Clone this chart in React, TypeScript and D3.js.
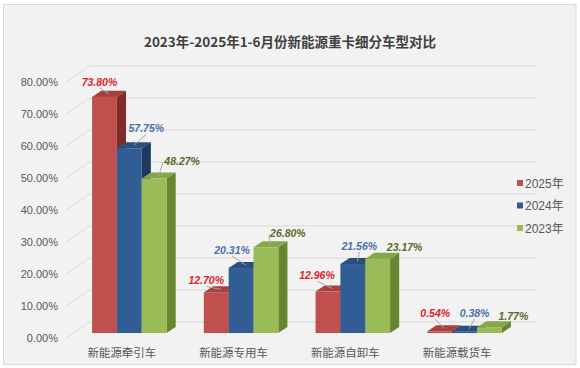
import React, { useEffect, useRef } from "react";
import * as d3 from "d3";

// 数据
const categories = ["新能源牵引车", "新能源专用车", "新能源自卸车", "新能源载货车"];
const seriesNames = ["2025年", "2024年", "2023年"];
const values2025 = [73.8, 12.7, 12.96, 0.54];
const values2024 = [57.75, 20.31, 21.56, 0.38];
const values2023 = [48.27, 26.8, 23.17, 1.77];
const yTicks = [0, 10, 20, 30, 40, 50, 60, 70, 80];
const title = "2023年-2025年1-6月份新能源重卡细分车型对比";

const W = 580;
const H = 368;

// 颜色: 正面 / 顶面 / 侧面 / 标签
const palette = [
  { front: "#c0504d", top: "#a8403d", side: "#7f2c2a", label: "#e3202b" },
  { front: "#2f5d94", top: "#27507f", side: "#1d3a5e", label: "#4a72a8" },
  { front: "#9bbb59", top: "#87a64a", side: "#68862f", label: "#5b6a2e" },
];

// 标签相对柱顶中心的偏移 (按 series, category)
const labelOffsets = [
  [[-5, -15], [-10, -12], [-11, -16.5], [-4.5, -18]],
  [[17, -20], [-9, -18], [6.5, -18], [10, -19]],
  [[28, -17.5], [22, -14], [27, -12], [24, -11]],
];

const App = () => {
  const svgRef = useRef<SVGSVGElement>(null);

  useEffect(() => {
    const svg = d3.select(svgRef.current);
    svg.selectAll("*").remove();

    const seriesValues = [values2025, values2024, values2023];

    // 3D 深度向量
    const depth = { x: 24, y: -16 };
    const t0 = 0.31;
    const t1 = 0.69;

    const x0 = d3.scaleBand().domain(categories).range([66, 513]).padding(0);
    const x1 = d3
      .scaleBand()
      .domain(seriesNames)
      .range([0, x0.bandwidth()])
      .paddingInner(0)
      .paddingOuter(0.75);
    const y = d3.scaleLinear().domain([0, 80]).range([338, 82]);

    // 背景
    svg.append("rect").attr("width", W).attr("height", H).attr("fill", "#ffffff");
    svg.append("rect")
      .attr("x", 3.5)
      .attr("y", 4.5)
      .attr("width", 572.5)
      .attr("height", 360)
      .attr("fill", "#f2f2f2")
      .attr("stroke", "#d9d9d9");

    // 标题
    svg.append("text")
      .attr("x", 290)
      .attr("y", 47)
      .attr("text-anchor", "middle")
      .attr("font-family", "'Noto Sans CJK SC', sans-serif")
      .attr("font-weight", "bold")
      .attr("font-size", "13.5px")
      .attr("fill", "#404040")
      .text(title);

    // 背墙网格线 + 左墙斜线
    const xl = x0.range()[0];
    const xr = x0.range()[1];
    yTicks.forEach((t) => {
      svg.append("line")
        .attr("x1", xl + depth.x)
        .attr("x2", xr + depth.x)
        .attr("y1", y(t) + depth.y)
        .attr("y2", y(t) + depth.y)
        .attr("stroke", "#d9d9d9")
        .attr("stroke-width", 1);
      svg.append("line")
        .attr("x1", xl)
        .attr("y1", y(t))
        .attr("x2", xl + depth.x)
        .attr("y2", y(t) + depth.y)
        .attr("stroke", "#d9d9d9")
        .attr("stroke-width", 1);
      svg.append("text")
        .attr("x", 58)
        .attr("y", y(t) + 4)
        .attr("text-anchor", "end")
        .attr("font-family", "'Liberation Sans', sans-serif")
        .attr("font-size", "11px")
        .attr("fill", "#595959")
        .text(`${t.toFixed(2)}%`);
    });

    // 柱子 (从左往右画, 后画的盖住前面的侧面)
    const fx = depth.x * t0;
    const fy = depth.y * t0;
    const bdx = depth.x * (t1 - t0);
    const bdy = depth.y * (t1 - t0);
    const bars: { cx: number; ty: number; s: number; c: number; v: number }[] = [];

    categories.forEach((cat, c) => {
      seriesNames.forEach((s, si) => {
        const v = seriesValues[si][c];
        const xL = (x0(cat) as number) + (x1(s) as number) + fx;
        const w = x1.bandwidth();
        const yb = y(0) + fy;
        const yt = y(v) + fy;
        const col = palette[si];
        const g = svg.append("g");
        g.append("path")
          .attr("d", `M${xL},${yt}L${xL + w},${yt}L${xL + w + bdx},${yt + bdy}L${xL + bdx},${yt + bdy}Z`)
          .attr("fill", col.top);
        g.append("path")
          .attr("d", `M${xL + w},${yt}L${xL + w + bdx},${yt + bdy}L${xL + w + bdx},${yb + bdy}L${xL + w},${yb}Z`)
          .attr("fill", col.side);
        g.append("rect")
          .attr("x", xL)
          .attr("y", yt)
          .attr("width", w)
          .attr("height", yb - yt)
          .attr("fill", col.front);
        bars.push({ cx: xL + w / 2, ty: yt, s: si, c, v });
      });
    });

    // 数据标签 + 引导线
    bars.forEach((b) => {
      const [ox, oy] = labelOffsets[b.s][b.c];
      const lx = b.cx + ox;
      const ly = b.ty + oy;
      const ex = b.cx + bdx / 2;
      const ey = b.ty + bdy / 2;
      let sx = lx;
      let sy = ly + 6;
      if (ox > 20) {
        sx = lx - 19;
        sy = ly + 1;
      }
      const dist = Math.hypot(ex - sx, ey - sy);
      if (dist > 9) {
        svg.append("line")
          .attr("x1", sx)
          .attr("y1", sy)
          .attr("x2", ex)
          .attr("y2", ey)
          .attr("stroke", "#a6a6a6")
          .attr("stroke-width", 1);
      }
      svg.append("text")
        .attr("x", lx)
        .attr("y", ly + 4)
        .attr("text-anchor", "middle")
        .attr("font-family", "'Liberation Sans', sans-serif")
        .attr("font-weight", "bold")
        .attr("font-style", "italic")
        .attr("font-size", "10.5px")
        .attr("fill", palette[b.s].label)
        .text(`${b.v.toFixed(2)}%`);
    });

    // 分类标签
    categories.forEach((cat) => {
      svg.append("text")
        .attr("x", (x0(cat) as number) + x0.bandwidth() / 2)
        .attr("y", 357)
        .attr("text-anchor", "middle")
        .attr("font-family", "'Noto Sans CJK SC', sans-serif")
        .attr("font-size", "11.5px")
        .attr("fill", "#595959")
        .text(cat);
    });

    // 图例
    const legend = d3.scalePoint().domain(seriesNames).range([183, 228]);
    seriesNames.forEach((s, si) => {
      svg.append("rect")
        .attr("x", 517)
        .attr("y", (legend(s) as number) - 3)
        .attr("width", 6)
        .attr("height", 6)
        .attr("fill", palette[si].front);
      svg.append("text")
        .attr("x", 525)
        .attr("y", (legend(s) as number) + 4.5)
        .attr("font-family", "'Liberation Sans', 'Noto Sans CJK SC', sans-serif")
        .attr("font-size", "12px")
        .attr("fill", "#595959")
        .text(s);
    });
  }, []);

  return (
    <svg
      ref={svgRef}
      width={W}
      height={H}
      style={{ position: "absolute", left: 0, top: 0 }}
    ></svg>
  );
};

export default App;
